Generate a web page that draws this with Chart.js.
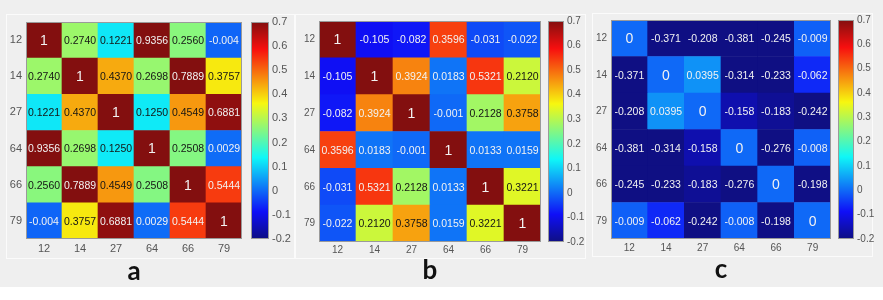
<!DOCTYPE html>
<html>
<head>
<meta charset="utf-8">
<script src="https://cdn.jsdelivr.net/npm/chart.js@4.4.1/dist/chart.umd.min.js"></script>
<style>
  html, body { margin: 0; padding: 0; }
  body { width: 883px; height: 300px; position: relative; background: #efefef; overflow: hidden; }
  .strip { position: absolute; left: 0; top: 287px; width: 883px; height: 13px; background: #fff; }
  .frame { position: absolute; border: 1.5px solid #fbfbfb; box-sizing: border-box; }
  canvas { position: absolute; top: 0; }
</style>
</head>
<body>
<div class="strip"></div>
<div class="frame" style="left:6px;top:14px;width:290px;height:245px"></div>
<div class="frame" style="left:294px;top:14px;width:292px;height:245px"></div>
<div class="frame" style="left:592px;top:13px;width:281px;height:244px"></div>

<canvas id="heatA" width="260" height="300" style="left:0px"></canvas>
<canvas id="barA" width="50" height="300" style="left:245px"></canvas>
<canvas id="heatB" width="260" height="300" style="left:290px"></canvas>
<canvas id="barB" width="48" height="300" style="left:542px"></canvas>
<canvas id="heatC" width="255" height="300" style="left:585px"></canvas>
<canvas id="barC" width="50" height="300" style="left:832px"></canvas>

<script>
// etiquetas de filas / columnas
const categories = ['12', '14', '27', '64', '66', '79'];
const barTicks = [-0.2, -0.1, 0, 0.1, 0.2, 0.3, 0.4, 0.5, 0.6, 0.7];

// matriz a
const valuesA = [
  [1, 0.2740, 0.1221, 0.9356, 0.2560, -0.004],
  [0.2740, 1, 0.4370, 0.2698, 0.7889, 0.3757],
  [0.1221, 0.4370, 1, 0.1250, 0.4549, 0.6881],
  [0.9356, 0.2698, 0.1250, 1, 0.2508, 0.0029],
  [0.2560, 0.7889, 0.4549, 0.2508, 1, 0.5444],
  [-0.004, 0.3757, 0.6881, 0.0029, 0.5444, 1]
];

// matriz b
const valuesB = [
  [1, -0.105, -0.082, 0.3596, -0.031, -0.022],
  [-0.105, 1, 0.3924, 0.0183, 0.5321, 0.2120],
  [-0.082, 0.3924, 1, -0.001, 0.2128, 0.3758],
  [0.3596, 0.0183, -0.001, 1, 0.0133, 0.0159],
  [-0.031, 0.5321, 0.2128, 0.0133, 1, 0.3221],
  [-0.022, 0.2120, 0.3758, 0.0159, 0.3221, 1]
];
// en b el color de la celda no sigue el numero: valor leido en la barra de color
const shadeB = [
  [1, -0.09, -0.08, 0.54, -0.03, -0.02],
  [-0.09, 1, 0.475, 0.01, 0.55, 0.32],
  [-0.08, 0.475, 1, 0.0, 0.28, 0.445],
  [0.54, 0.01, 0.0, 1, 0.01, 0.01],
  [-0.03, 0.55, 0.28, 0.01, 1, 0.34],
  [-0.02, 0.32, 0.445, 0.01, 0.34, 1]
];

// matriz c
const valuesC = [
  [0, -0.371, -0.208, -0.381, -0.245, -0.009],
  [-0.371, 0, 0.0395, -0.314, -0.233, -0.062],
  [-0.208, 0.0395, 0, -0.158, -0.183, -0.242],
  [-0.381, -0.314, -0.158, 0, -0.276, -0.008],
  [-0.245, -0.233, -0.183, -0.276, 0, -0.198],
  [-0.009, -0.062, -0.242, -0.008, -0.198, 0]
];

const VMIN = -0.2, VMAX = 0.7;
const FONT = "'Liberation Sans', Arial, sans-serif";

function jetRGB(t) {
  t = Math.max(0, Math.min(1, t));
  const c = x => Math.max(0, Math.min(1, x));
  const r = c(1.5 - Math.abs(4 * t - 3));
  const g = c(1.5 - Math.abs(4 * t - 2));
  const b = c(1.5 - Math.abs(4 * t - 1));
  // un poco lavado como en la imagen
  const f = x => Math.round(0.91 * x * 255 + 15);
  return 'rgb(' + f(r) + ',' + f(g) + ',' + f(b) + ')';
}
function jet(v) { return jetRGB((v - VMIN) / (VMAX - VMIN)); }

function fmt(v) {
  if (v === Math.round(v)) return String(v);
  return v < 0 ? v.toFixed(3) : v.toFixed(4);
}

// marco gris alrededor del area
const framePlugin = {
  id: 'frame',
  afterDraw(chart) {
    const a = chart.chartArea, ctx = chart.ctx;
    ctx.save();
    ctx.strokeStyle = '#9a9a9a';
    ctx.lineWidth = 1;
    ctx.strokeRect(a.left + 0.5, a.top + 0.5, a.right - a.left - 1, a.bottom - a.top - 1);
    ctx.restore();
  }
};

// textos dentro de las celdas
const cellText = {
  id: 'cellText',
  afterDatasetsDraw(chart) {
    const ctx = chart.ctx;
    const vals = chart.config.options.plugins.cellText.values;
    const shade = chart.config.options.plugins.cellText.shade;
    ctx.save();
    ctx.textAlign = 'center';
    ctx.textBaseline = 'middle';
    chart.data.datasets.forEach((ds, i) => {
      const row = 5 - i;
      chart.getDatasetMeta(i).data.forEach((el, j) => {
        const v = vals[row][j];
        const s = shade[row][j];
        const big = v === Math.round(v);
        ctx.font = (big ? '14px ' : '10.5px ') + FONT;
        ctx.fillStyle = (s > 0.1 && s < 0.46) ? '#151515' : '#f2f2f2';
        ctx.fillText(fmt(v), el.x, (el.y + el.base) / 2 + 1);
      });
    });
    ctx.restore();
  }
};

// barra de color jet
const jetFill = {
  id: 'jetFill',
  beforeDatasetsDraw(chart) {
    const a = chart.chartArea, ctx = chart.ctx;
    const grad = ctx.createLinearGradient(0, a.bottom, 0, a.top);
    for (let k = 0; k <= 32; k++) grad.addColorStop(k / 32, jetRGB(k / 32));
    ctx.save();
    ctx.fillStyle = grad;
    ctx.fillRect(a.left, a.top, a.right - a.left, a.bottom - a.top);
    ctx.restore();
  }
};

const noGrid = { display: false, drawTicks: false, tickLength: 0 };

function makeHeat(id, values, shade, letter, o) {
  // una serie por fila, apiladas de abajo (79) hacia arriba (12)
  const datasets = [];
  for (let i = 0; i < 6; i++) {
    const row = 5 - i;
    datasets.push({
      label: categories[row],
      data: categories.map(() => 1),
      backgroundColor: shade[row].map(v => jet(v)),
      borderWidth: 0,
      barPercentage: 1,
      categoryPercentage: 1,
      yAxisID: 'yv'
    });
  }
  return new Chart(document.getElementById(id), {
    type: 'bar',
    data: { labels: categories, datasets: datasets },
    options: {
      responsive: false,
      animation: false,
      events: [],
      layout: { padding: o.pad },
      scales: {
        x: {
          stacked: true,
          grid: noGrid,
          border: { display: false },
          ticks: { color: '#555', font: { size: o.tick, family: FONT }, padding: o.xp, maxRotation: 0 },
          afterFit(s) { s.height = o.xh; }
        },
        y: {
          type: 'category',
          labels: categories,
          offset: true,
          position: 'left',
          grid: noGrid,
          border: { display: false },
          ticks: { color: '#555', font: { size: o.tick, family: FONT }, padding: 4 },
          afterFit(s) { s.width = 20; }
        },
        yv: { type: 'linear', stacked: true, min: 0, max: 6, display: false }
      },
      plugins: {
        legend: { display: false },
        tooltip: { enabled: false },
        title: {
          display: true, text: letter, position: 'bottom', fullSize: false,
          color: '#111', padding: 0,
          font: { size: 26, weight: 'bold', family: "Lato, 'DejaVu Sans', sans-serif", lineHeight: 1 }
        },
        cellText: { values: values, shade: shade }
      }
    },
    plugins: [cellText, framePlugin]
  });
}

function makeBar(id, o) {
  return new Chart(document.getElementById(id), {
    type: 'bar',
    data: { labels: [''], datasets: [] },
    options: {
      responsive: false,
      animation: false,
      events: [],
      layout: { padding: o.pad },
      scales: {
        x: { display: false },
        y: {
          position: 'right',
          min: VMIN, max: VMAX,
          afterBuildTicks(s) { s.ticks = barTicks.map(v => ({ value: v })); },
          grid: noGrid,
          border: { display: false },
          ticks: {
            color: '#555', padding: 3,
            font: { size: o.tick, family: FONT },
            callback: v => String(Math.round(v * 10) / 10)
          },
          afterFit(s) { s.width = o.yw; }
        }
      },
      plugins: { legend: { display: false }, tooltip: { enabled: false } }
    },
    plugins: [jetFill, framePlugin]
  });
}

makeHeat('heatA', valuesA, valuesA, 'a', { pad: { left: 6, right: 18, top: 22, bottom: 15 }, xh: 20, xp: 3, tick: 11 });
makeBar('barA', { pad: { left: 6, top: 22, bottom: 61 }, yw: 26, tick: 11 });

makeHeat('heatB', valuesB, shadeB, 'b', { pad: { left: 9, right: 9, top: 21, bottom: 16 }, xh: 16, xp: 2, tick: 10 });
makeBar('barB', { pad: { left: 6, top: 21, bottom: 58 }, yw: 26, tick: 10 });

makeHeat('heatC', valuesC, valuesC, 'c', { pad: { left: 6, right: 9, top: 20, bottom: 17 }, xh: 18, xp: 3, tick: 10 });
makeBar('barC', { pad: { left: 6, top: 20, bottom: 61 }, yw: 28, tick: 10 });
</script>
</body>
</html>
